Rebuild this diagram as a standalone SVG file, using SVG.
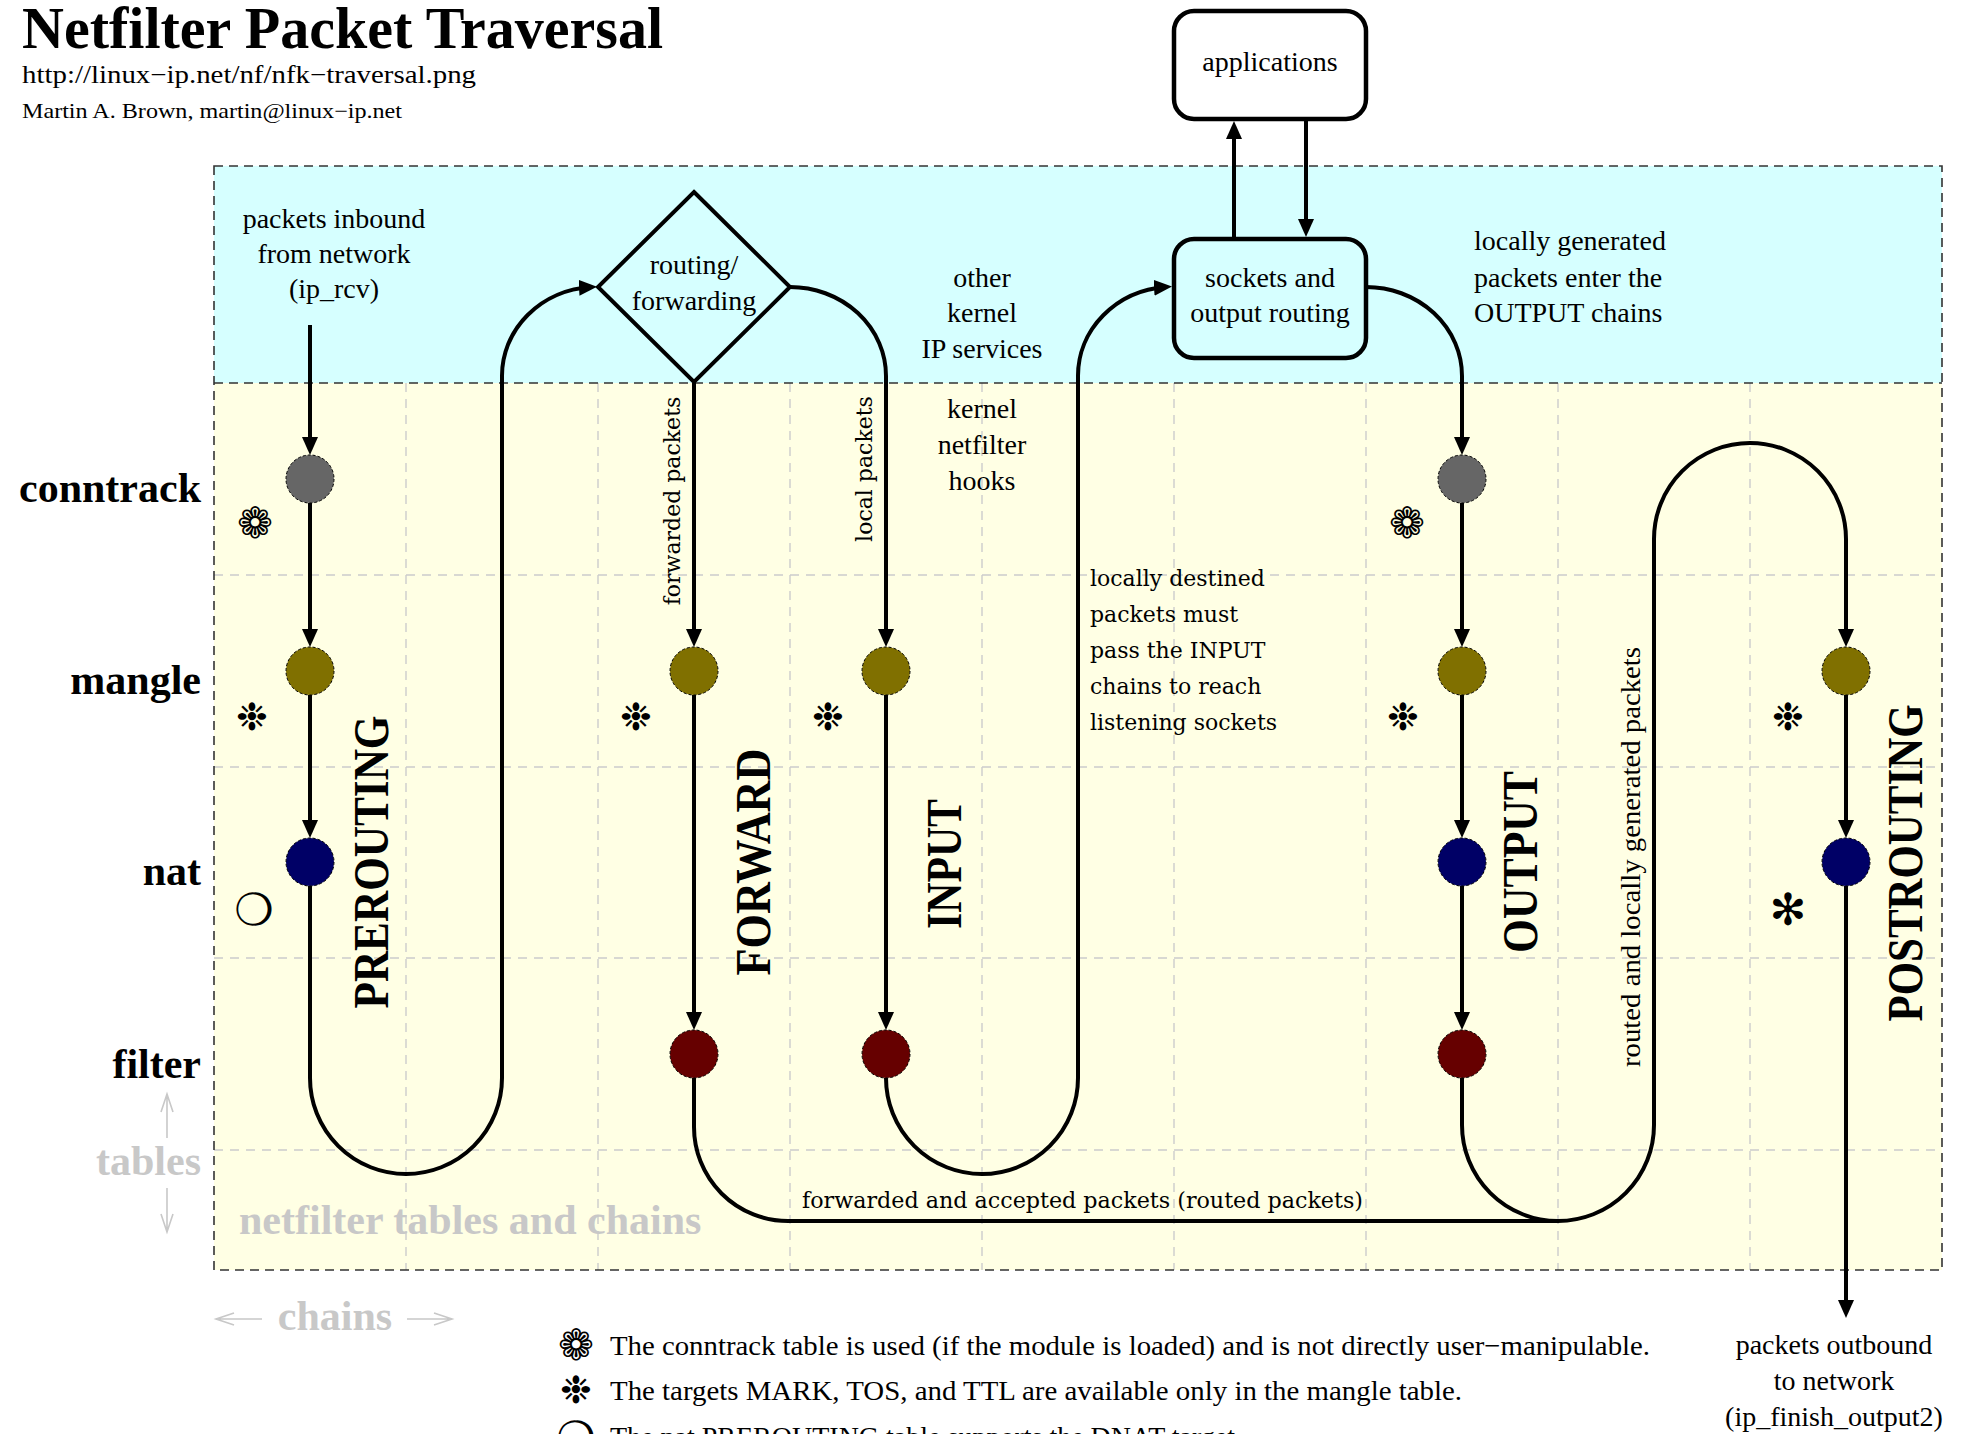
<svg xmlns="http://www.w3.org/2000/svg" width="1963" height="1434" viewBox="0 0 1963 1434">
<style>
.t{font-family:"Liberation Serif","Times New Roman",serif;font-size:28px;fill:#000}
.m{text-anchor:middle}
.w{font-family:"DejaVu Serif",serif;font-size:22px;fill:#000}
.b{font-family:"Liberation Serif","Times New Roman",serif;font-weight:bold;font-size:42px;fill:#000}
.gr{fill:#c8c8c8}
.ch{font-family:"Liberation Serif","Times New Roman",serif;font-weight:bold;font-size:50px;fill:#000;text-anchor:middle}
.sym{font-family:"DejaVu Sans",sans-serif;font-size:38px;text-anchor:middle;dominant-baseline:central;fill:#000}
.fl{font-size:43px}
.ci{font-size:44px}
.ln{fill:none;stroke:#000;stroke-width:4}
.ar{marker-end:url(#ah)}
.grid{stroke:#cccccc;stroke-width:1.4;stroke-dasharray:9 7;fill:none}
.bord{stroke:#333;stroke-width:1.6;stroke-dasharray:9 6;fill:none}
.nd{stroke:#000;stroke-width:1;stroke-dasharray:3 2}
.box{fill:none;stroke:#000;stroke-width:4.5}
.gl{stroke:#c8c8c8;stroke-width:1.6;fill:none}
</style>
<defs>
<marker id="ah" viewBox="0 0 18 16" refX="12" refY="8" markerWidth="18" markerHeight="16" markerUnits="userSpaceOnUse" orient="auto"><path d="M0,0 L18,8 L0,16 z" fill="#000"/></marker>
</defs>
<rect width="1963" height="1434" fill="#fff"/>

<!-- regions -->
<g id="regions">
<rect x="214" y="166" width="1728" height="217" fill="#d6ffff"/>
<rect x="214" y="383" width="1728" height="887" fill="#ffffe4"/>
<g class="grid">
<path d="M406,383V1270M598,383V1270M790,383V1270M982,383V1270M1174,383V1270M1366,383V1270M1558,383V1270M1750,383V1270"/>
<path d="M214,575H1942M214,767H1942M214,958H1942M214,1150H1942"/>
</g>
<rect class="bord" x="214" y="166" width="1728" height="1104"/>
<path class="bord" d="M214,383H1942"/>
</g>

<!-- header -->
<g id="header">
<text class="t" x="22" y="48" style="font-weight:bold;font-size:60px" textLength="641" lengthAdjust="spacingAndGlyphs">Netfilter Packet Traversal</text>
<text class="t" x="22" y="83" style="font-size:25px" textLength="454" lengthAdjust="spacingAndGlyphs">http://linux−ip.net/nf/nfk−traversal.png</text>
<text class="t" x="22" y="118" style="font-size:21px" textLength="380" lengthAdjust="spacingAndGlyphs">Martin A. Brown, martin@linux−ip.net</text>
</g>

<!-- axis labels -->
<g id="labels">
<text class="b" x="201" y="502" text-anchor="end">conntrack</text>
<text class="b" x="201" y="694" text-anchor="end">mangle</text>
<text class="b" x="201" y="885" text-anchor="end">nat</text>
<text class="b" x="201" y="1078" text-anchor="end">filter</text>
<text class="b gr" x="201" y="1175" text-anchor="end">tables</text>
<text class="b gr" x="239" y="1234">netfilter tables and chains</text>
<text class="b gr" x="335" y="1330" text-anchor="middle">chains</text>
<path class="gl" d="M167,1138V1094M161,1112L167,1094L173,1112M167,1188V1232M161,1214L167,1232L173,1214"/>
<path class="gl" d="M262,1319H216M234,1313L216,1319L234,1325M407,1319H452M434,1313L452,1319L434,1325"/>
</g>

<!-- top nodes -->
<g id="node-applications">
<rect class="box" x="1174" y="11" width="192" height="108" rx="20"/>
<text class="t m" x="1270" y="71">applications</text>
</g>
<g id="node-sockets">
<rect class="box" x="1174" y="239" width="192" height="119" rx="20"/>
<text class="t m" x="1270" y="287">sockets and</text>
<text class="t m" x="1270" y="322">output routing</text>
</g>
<g id="node-routing">
<polygon points="694,192 790,287 694,382 598,287" fill="none" stroke="#000" stroke-width="4"/>
<text class="t m" x="694" y="274">routing/</text>
<text class="t m" x="694" y="310">forwarding</text>
</g>

<!-- annotations -->
<g id="notes">
<text class="t m" x="334" y="228">packets inbound</text>
<text class="t m" x="334" y="263">from network</text>
<text class="t m" x="334" y="298">(ip_rcv)</text>
<text class="t m" x="982" y="287">other</text>
<text class="t m" x="982" y="322">kernel</text>
<text class="t m" x="982" y="358">IP services</text>
<text class="t m" x="982" y="418">kernel</text>
<text class="t m" x="982" y="454">netfilter</text>
<text class="t m" x="982" y="490">hooks</text>
<text class="t" x="1474" y="250">locally generated</text>
<text class="t" x="1474" y="287">packets enter the</text>
<text class="t" x="1474" y="322">OUTPUT chains</text>
<text class="w" x="1090" y="586">locally destined</text>
<text class="w" x="1090" y="622">packets must</text>
<text class="w" x="1090" y="658">pass the INPUT</text>
<text class="w" x="1090" y="694">chains to reach</text>
<text class="w" x="1090" y="730">listening sockets</text>
<text class="w" x="802" y="1208" textLength="561" lengthAdjust="spacingAndGlyphs">forwarded and accepted packets (routed packets)</text>
<text class="w m" transform="translate(680,501) rotate(-90)">forwarded packets</text>
<text class="w m" transform="translate(872,469) rotate(-90)">local packets</text>
<text class="t m" transform="translate(1640,857) rotate(-90)" textLength="420" lengthAdjust="spacingAndGlyphs">routed and locally generated packets</text>
<text class="t m" x="1834" y="1354">packets outbound</text>
<text class="t m" x="1834" y="1390">to network</text>
<text class="t m" x="1834" y="1426">(ip_finish_output2)</text>
</g>

<!-- chain labels -->
<g id="chains">
<text class="ch" transform="translate(388,862) rotate(-90)" textLength="293" lengthAdjust="spacingAndGlyphs">PREROUTING</text>
<text class="ch" transform="translate(770,862) rotate(-90)" textLength="227" lengthAdjust="spacingAndGlyphs">FORWARD</text>
<text class="ch" transform="translate(961,864) rotate(-90)" textLength="130" lengthAdjust="spacingAndGlyphs">INPUT</text>
<text class="ch" transform="translate(1537,862) rotate(-90)" textLength="182" lengthAdjust="spacingAndGlyphs">OUTPUT</text>
<text class="ch" transform="translate(1922,863) rotate(-90)" textLength="317" lengthAdjust="spacingAndGlyphs">POSTROUTING</text>
</g>

<!-- connectors -->
<g id="connectors" class="ln">
<path class="ar" d="M310,325V449"/>
<path class="ar" d="M310,503V641"/>
<path class="ar" d="M310,695V832"/>
<path class="ar" d="M310,886V1078A96,96 0 0 0 502,1078V376A95,89 0 0 1 591,287"/>
<path class="ar" d="M694,383V641"/>
<path class="ar" d="M694,695V1024"/>
<path d="M694,1078V1127A94,94 0 0 0 788,1221H1558"/>
<path class="ar" d="M790,287A96,89 0 0 1 886,376V641"/>
<path class="ar" d="M886,695V1024"/>
<path class="ar" d="M886,1078A96,96 0 0 0 1078,1078V376A95,89 0 0 1 1166,287"/>
<path class="ar" d="M1234,239V127"/>
<path class="ar" d="M1306,119V231"/>
<path class="ar" d="M1366,287A96,89 0 0 1 1462,376V449"/>
<path class="ar" d="M1462,503V641"/>
<path class="ar" d="M1462,695V832"/>
<path class="ar" d="M1462,886V1024"/>
<path class="ar" d="M1462,1078V1125A96,96 0 0 0 1654,1125V539A96,96 0 0 1 1846,539V641"/>
<path class="ar" d="M1846,695V832"/>
<path class="ar" d="M1846,886V1312"/>
</g>

<!-- hook nodes -->
<g id="hooks" class="nd">
<g id="pre-conntrack"><ellipse cx="310" cy="479" rx="24" ry="24" fill="#666666"/></g>
<g id="pre-mangle"><ellipse cx="310" cy="671" rx="24" ry="24" fill="#807000"/></g>
<g id="pre-nat"><ellipse cx="310" cy="862" rx="24" ry="24" fill="#000066"/></g>
<g id="fwd-mangle"><ellipse cx="694" cy="671" rx="24" ry="24" fill="#807000"/></g>
<g id="fwd-filter"><ellipse cx="694" cy="1054" rx="24" ry="24" fill="#660000"/></g>
<g id="in-mangle"><ellipse cx="886" cy="671" rx="24" ry="24" fill="#807000"/></g>
<g id="in-filter"><ellipse cx="886" cy="1054" rx="24" ry="24" fill="#660000"/></g>
<g id="out-conntrack"><ellipse cx="1462" cy="479" rx="24" ry="24" fill="#666666"/></g>
<g id="out-mangle"><ellipse cx="1462" cy="671" rx="24" ry="24" fill="#807000"/></g>
<g id="out-nat"><ellipse cx="1462" cy="862" rx="24" ry="24" fill="#000066"/></g>
<g id="out-filter"><ellipse cx="1462" cy="1054" rx="24" ry="24" fill="#660000"/></g>
<g id="post-mangle"><ellipse cx="1846" cy="671" rx="24" ry="24" fill="#807000"/></g>
<g id="post-nat"><ellipse cx="1846" cy="862" rx="24" ry="24" fill="#000066"/></g>
</g>

<!-- symbols -->
<g id="symbols">
<text class="sym fl" x="255" y="523">❁</text>
<text class="sym fl" x="1407" y="523">❁</text>
<text class="sym" x="252" y="717">❉</text>
<text class="sym" x="636" y="717">❉</text>
<text class="sym" x="828" y="717">❉</text>
<text class="sym" x="1403" y="717">❉</text>
<text class="sym" x="1788" y="717">❉</text>
<text class="sym ci" x="254" y="909">❍</text>
<text class="sym ci" x="1788" y="909">✻</text>
</g>

<!-- legend -->
<g id="legend">
<text class="sym fl" x="576" y="1345">❁</text>
<text class="t" x="610" y="1355" textLength="1040" lengthAdjust="spacingAndGlyphs">The conntrack table is used (if the module is loaded) and is not directly user−manipulable.</text>
<text class="sym" x="576" y="1390">❉</text>
<text class="t" x="610" y="1400" textLength="852" lengthAdjust="spacingAndGlyphs">The targets MARK, TOS, and TTL are available only in the mangle table.</text>
<text class="sym ci" x="576" y="1437">❍</text>
<text class="t" x="610" y="1446">The nat PREROUTING table supports the DNAT target.</text>
</g>
</svg>
